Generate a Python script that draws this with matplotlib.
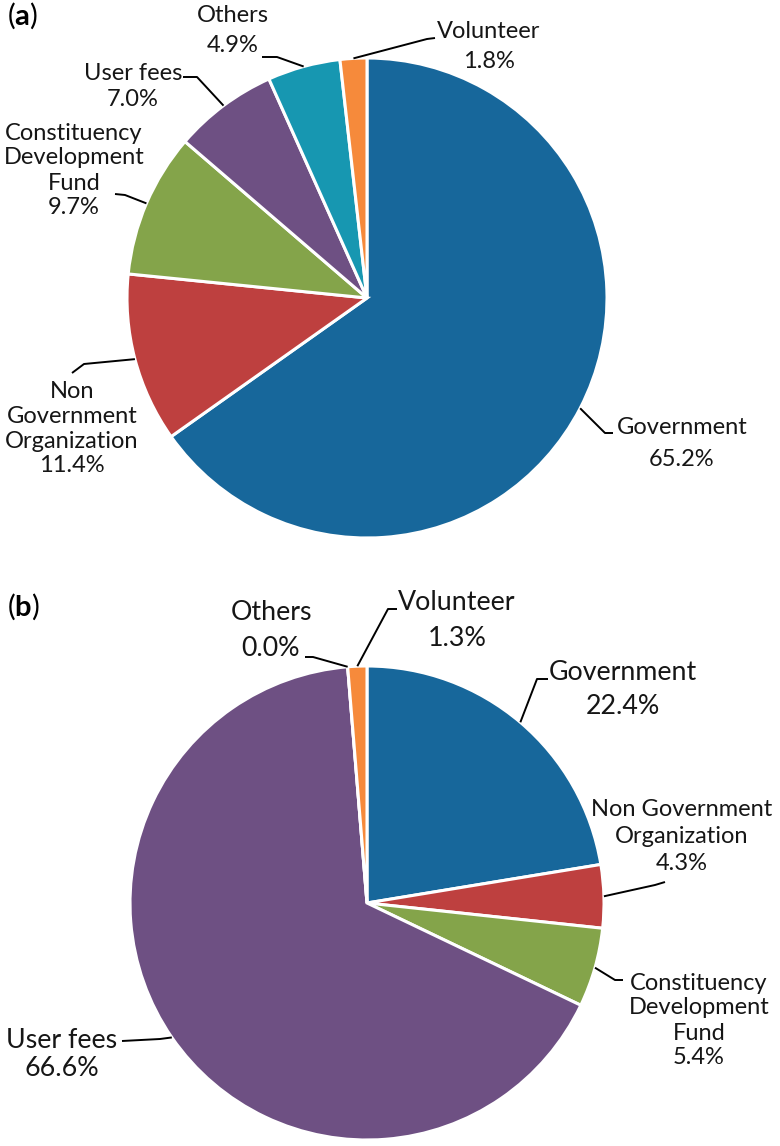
import numpy as np
import matplotlib
matplotlib.use("Agg")
import matplotlib.pyplot as plt

plt.rcParams['font.family'] = ['Lato', 'DejaVu Sans']
plt.rcParams['mathtext.fontset'] = 'custom'
plt.rcParams['mathtext.rm'] = 'Lato'
plt.rcParams['mathtext.bf'] = 'Lato:bold'

W, H = 780, 1146

# ---- data ----
categories = ["Government", "Non Government Organization", "Constituency Development Fund",
              "User fees", "Others", "Volunteer"]
values_a = [65.2, 11.4, 9.7, 7.0, 4.9, 1.8]
values_b = [22.4, 4.3, 5.4, 66.6, 0.0, 1.3]
colors = ["#17679B", "#BE403F", "#84A44A", "#6E5083", "#1797B1", "#F68A3B"]

# label line breaks per panel (text of the labels)
lines_a = [["Government"], ["Non", "Government", "Organization"],
           ["Constituency", "Development", "Fund"], ["User fees"], ["Others"], ["Volunteer"]]
lines_b = [["Government"], ["Non Government", "Organization"],
           ["Constituency", "Development", "Fund"], ["User fees"], ["Others"], ["Volunteer"]]

# ---- layout (pixel coords, y downward) ----
S_SMALL = 17.0
S_LARGE = 19.3
panel_a = dict(center=(367, 298), radius=240, tag="a", tag_xy=(7, 16),
               text=[(682, 428, 32, S_SMALL), (72, 392, 24.5, S_SMALL), (74, 133, 25, S_SMALL),
                     (133, 74, 25, S_SMALL), (233, 15, 30, S_SMALL), (489, 32, 30, S_SMALL)],
               leader=[((605, 433), (613, 433)), ((84, 364), (72, 373)), ((125, 195), (115, 194)),
                       ((197, 77), (183, 77)), ((277, 57), (262, 57)), ((427, 39), (435, 38))])
panel_b = dict(center=(367, 903), radius=237, tag="b", tag_xy=(7, 607),
               text=[(623, 672, 35, S_LARGE), (682, 810, 26.5, S_SMALL), (699, 983, 25, S_SMALL),
                     (62, 1040, 29, S_LARGE), (271, 613, 35, S_LARGE), (457, 602, 36, S_LARGE)],
               leader=[((537, 679), (548, 679)), ((655, 885), (665, 882)), ((615, 980), (623, 980)),
                       ((160, 1039), (122, 1041)), ((313, 657), (305, 657)), ((388, 609), (397, 609))])

fig = plt.figure(figsize=(W / 100, H / 100), dpi=100)
ax = fig.add_axes([0, 0, 1, 1])
ax.set_xlim(0, W)
ax.set_ylim(0, H)
ax.set_aspect('equal')
ax.axis('off')

TXT = "#161616"


def draw(values, lines, panel):
    cx, cy_px = panel["center"]
    cy = H - cy_px
    r = panel["radius"]
    ax.pie(values, colors=colors, startangle=90, counterclock=False,
           center=(cx, cy), radius=r,
           wedgeprops=dict(edgecolor="white", linewidth=2.2, antialiased=True))
    ax.set_xlim(0, W)
    ax.set_ylim(0, H)
    ax.set_aspect('equal')
    tot = sum(values)
    cum = np.cumsum([0] + list(values))
    for i, v in enumerate(values):
        mid = (cum[i] + cum[i + 1]) / 2 / tot * 2 * np.pi
        ax_x = cx + r * np.sin(mid)
        ax_y = cy + r * np.cos(mid)
        (ex, ey), (tx, ty) = panel["leader"][i]
        ax.plot([ax_x, ex, tx], [ax_y, H - ey, H - ty], color="black", lw=1.4,
                solid_capstyle="butt", solid_joinstyle="round")
        x0, y0, step, fs = panel["text"][i]
        all_lines = lines[i] + [f"{v:.1f}%"]
        for k, s in enumerate(all_lines):
            ax.text(x0, H - (y0 + k * step), s, ha="center", va="center",
                    fontsize=fs, color=TXT)
    tx, ty = panel["tag_xy"]
    ax.text(tx, H - ty, "(" + r"$\mathbf{" + panel["tag"] + "}$" + ")", ha="left", va="center",
            fontsize=21, color="black")


draw(values_a, lines_a, panel_a)
draw(values_b, lines_b, panel_b)

fig.savefig("out.png", dpi=100, facecolor="white")
